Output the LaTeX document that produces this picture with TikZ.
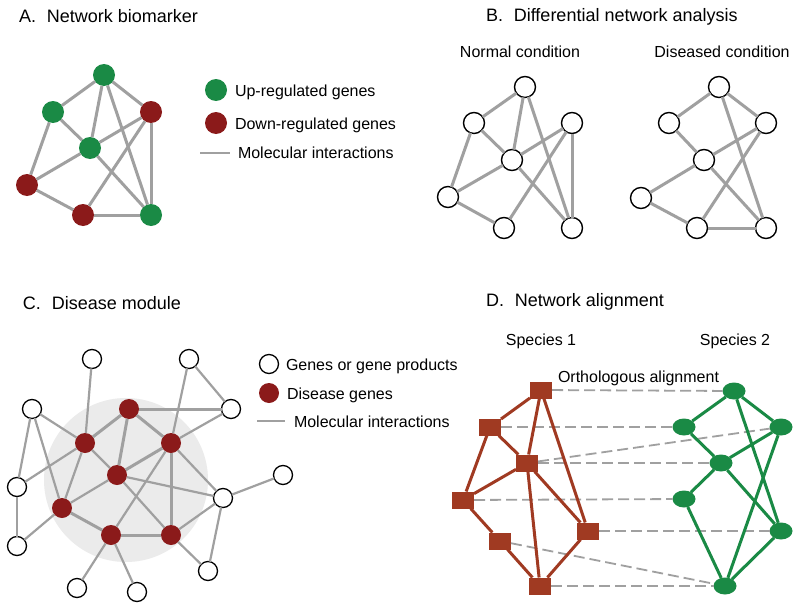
\documentclass[tikz,border=0pt]{standalone}
\usepackage{fontspec}
\setmainfont{Liberation Sans}
\usetikzlibrary{shapes.geometric}
\definecolor{upgreen}{HTML}{1A8A45}
\definecolor{downred}{HTML}{8B1A1A}
\definecolor{brn}{HTML}{A03A22}
\definecolor{egray}{HTML}{A0A0A0}
\definecolor{modbg}{HTML}{EBEBEB}
\begin{document}
\begin{tikzpicture}[x=1pt,y=-1pt,
  every node/.style={inner sep=0pt, outer sep=0pt},
  gnode/.style={circle, fill=upgreen, minimum size=22pt},
  rnode/.style={circle, fill=downred, minimum size=22pt},
  onode/.style={circle, draw=black, line width=1.4pt, fill=white, minimum size=21pt},
  cnode/.style={circle, draw=black, line width=1.3pt, fill=white, minimum size=19pt},
  dnode/.style={circle, fill=downred, minimum size=20pt},
  sqnode/.style={rectangle, fill=brn, minimum width=22pt, minimum height=17pt},
  elnode/.style={ellipse, fill=upgreen, minimum width=23pt, minimum height=17pt},
  lnk/.style={draw=egray, line width=3pt},
  thin lnk/.style={draw=egray, line width=2.2pt},
  brlnk/.style={draw=brn, line width=3pt},
  grlnk/.style={draw=upgreen, line width=3pt},
  align lnk/.style={draw=egray, line width=1.8pt, dash pattern=on 11pt off 5pt},
  ttl/.style={anchor=base west, font=\fontsize{18}{21}\selectfont},
  lbl/.style={anchor=base west, font=\fontsize{16}{19}\selectfont},
  clbl/.style={anchor=base, font=\fontsize{16}{19}\selectfont}
]
\useasboundingbox (0,0) rectangle (800,610);
\fill[white] (0,0) rectangle (800,610);

% ---------------- Panel A ----------------
\node[ttl] (tA) at (19,23) {A.\hspace{0.6em}Network biomarker};
\node[gnode] (a1) at (104,75) {};
\node[gnode] (a2) at (53,112) {};
\node[rnode] (a3) at (151,112) {};
\node[gnode] (a4) at (90,148) {};
\node[rnode] (a5) at (27,185) {};
\node[rnode] (a6) at (83,215) {};
\node[gnode] (a7) at (151,215) {};
\foreach \u/\v in {a1/a2,a1/a3,a1/a4,a1/a7,a2/a4,a2/a5,a4/a3,a4/a5,a4/a7,a3/a6,a3/a7,a5/a6,a6/a7}
  \draw[lnk] (\u) -- (\v);
\node[gnode] (lg1) at (216,90) {};
\node[rnode] (lg2) at (216,123) {};
\coordinate (la1) at (200,153);
\coordinate (la2) at (230,153);
\draw[lnk, line width=2.5pt] (la1) -- (la2);
\node[lbl] (tA1) at (235,96) {Up-regulated genes};
\node[lbl] (tA2) at (235,129) {Down-regulated genes};
\node[lbl] (tA3) at (238,158) {Molecular interactions};

% ---------------- Panel B ----------------
\node[ttl] (tB) at (486,22) {B.\hspace{0.6em}Differential network analysis};
\node[clbl] (tBn) at (520,58) {Normal condition};
\node[clbl] (tBd) at (722,58) {Diseased condition};
\node[onode] (n1) at (525,87) {};
\node[onode] (n2) at (474,123) {};
\node[onode] (n3) at (572,123) {};
\node[onode] (n4) at (512,160) {};
\node[onode] (n5) at (448,197) {};
\node[onode] (n6) at (504,228) {};
\node[onode] (n7) at (572,228) {};
\foreach \u/\v in {n1/n2,n1/n4,n1/n7,n2/n4,n2/n5,n4/n3,n4/n5,n4/n7,n3/n6,n3/n7,n5/n6}
  \draw[lnk] (\u) -- (\v);
\node[onode] (d1) at (719,87) {};
\node[onode] (d2) at (669,123) {};
\node[onode] (d3) at (766,123) {};
\node[onode] (d4) at (704,160) {};
\node[onode] (d5) at (641,198) {};
\node[onode] (d6) at (697,228) {};
\node[onode] (d7) at (766,228) {};
\foreach \u/\v in {d1/d2,d1/d3,d1/d7,d2/d4,d4/d3,d4/d5,d4/d7,d3/d6,d5/d6,d6/d7}
  \draw[lnk] (\u) -- (\v);

% ---------------- Panel C ----------------
\node[ttl] (tC) at (23,309) {C.\hspace{0.6em}Disease module};
\fill[modbg] (126,480) circle (82);
\node[cnode] (w1) at (92,359) {};
\node[cnode] (w2) at (189,359) {};
\node[cnode] (w3) at (32,409) {};
\node[cnode] (w4) at (231,409) {};
\node[cnode] (w5) at (17,487) {};
\node[cnode] (w6) at (283,475) {};
\node[cnode] (w7) at (223,498) {};
\node[cnode] (w8) at (17,546) {};
\node[cnode] (w9) at (208,571) {};
\node[cnode] (w10) at (77,588) {};
\node[cnode] (w11) at (137,592) {};
\node[dnode] (r1) at (129,409) {};
\node[dnode] (r2) at (85,443) {};
\node[dnode] (r3) at (171,443) {};
\node[dnode] (r4) at (117,475) {};
\node[dnode] (r5) at (62,508) {};
\node[dnode] (r6) at (111,535) {};
\node[dnode] (r7) at (171,535) {};
\foreach \u/\v in {w1/r2,w2/r3,w2/w4,w3/r2,w3/w5,w3/r5,r3/w4,w5/r2,r3/w7,r4/w7,r5/w8,r6/w10,r6/w11,r7/w7,r7/w9,w7/w9,w7/w6,w5/w8,r2/r4,r4/r5,r4/r7,r3/r6,r2/r5}
  \draw[thin lnk] (\u) -- (\v);
\foreach \u/\v in {r1/r2,r1/r3,r1/r4,r1/w4,r3/r4,r3/r7,r5/r6,r6/r7}
  \draw[lnk] (\u) -- (\v);
\node[cnode] (lc1) at (269,364) {};
\node[dnode] (lc2) at (269,393) {};
\coordinate (lc3a) at (257,421);
\coordinate (lc3b) at (285,421);
\draw[thin lnk] (lc3a) -- (lc3b);
\node[lbl] (tC1) at (286,370) {Genes or gene products};
\node[lbl] (tC2) at (287,399) {Disease genes};
\node[lbl] (tC3) at (294,427) {Molecular interactions};

% ---------------- Panel D ----------------
\node[ttl] (tD) at (486,306) {D.\hspace{0.6em}Network alignment};
\node[clbl] (tS1) at (541,345) {Species 1};
\node[clbl] (tS2) at (735,345) {Species 2};
\node[lbl] (tOA) at (558,382) {Orthologous alignment};
\node[sqnode] (s1) at (541,390) {};
\node[sqnode] (s2) at (490,427) {};
\node[sqnode] (s3) at (527,463) {};
\node[sqnode] (s4) at (463,500) {};
\node[sqnode] (s5) at (588,531) {};
\node[sqnode] (s6) at (500,541) {};
\node[sqnode] (s7) at (540,586) {};
\node[elnode] (e1) at (734,391) {};
\node[elnode] (e2) at (684,427) {};
\node[elnode] (e3) at (781,427) {};
\node[elnode] (e4) at (721,463) {};
\node[elnode] (e5) at (684,499) {};
\node[elnode] (e6) at (781,531) {};
\node[elnode] (e7) at (725,586) {};
\foreach \u/\v in {s1/e1,s2/e2,s3/e3,s3/e4,s4/e5,s5/e6,s6/e7,s7/e7}
  \draw[align lnk] (\u) -- (\v);
\foreach \u/\v in {s1/s2,s1/s3,s1/s5,s2/s3,s2/s4,s3/s4,s3/s7,s3/s5,s4/s6,s6/s7,s5/s7}
  \draw[brlnk] (\u) -- (\v);
\foreach \u/\v in {e1/e2,e1/e3,e1/e6,e2/e4,e3/e4,e3/e7,e4/e5,e4/e6,e5/e7,e6/e7}
  \draw[grlnk] (\u) -- (\v);
\end{tikzpicture}
\end{document}
